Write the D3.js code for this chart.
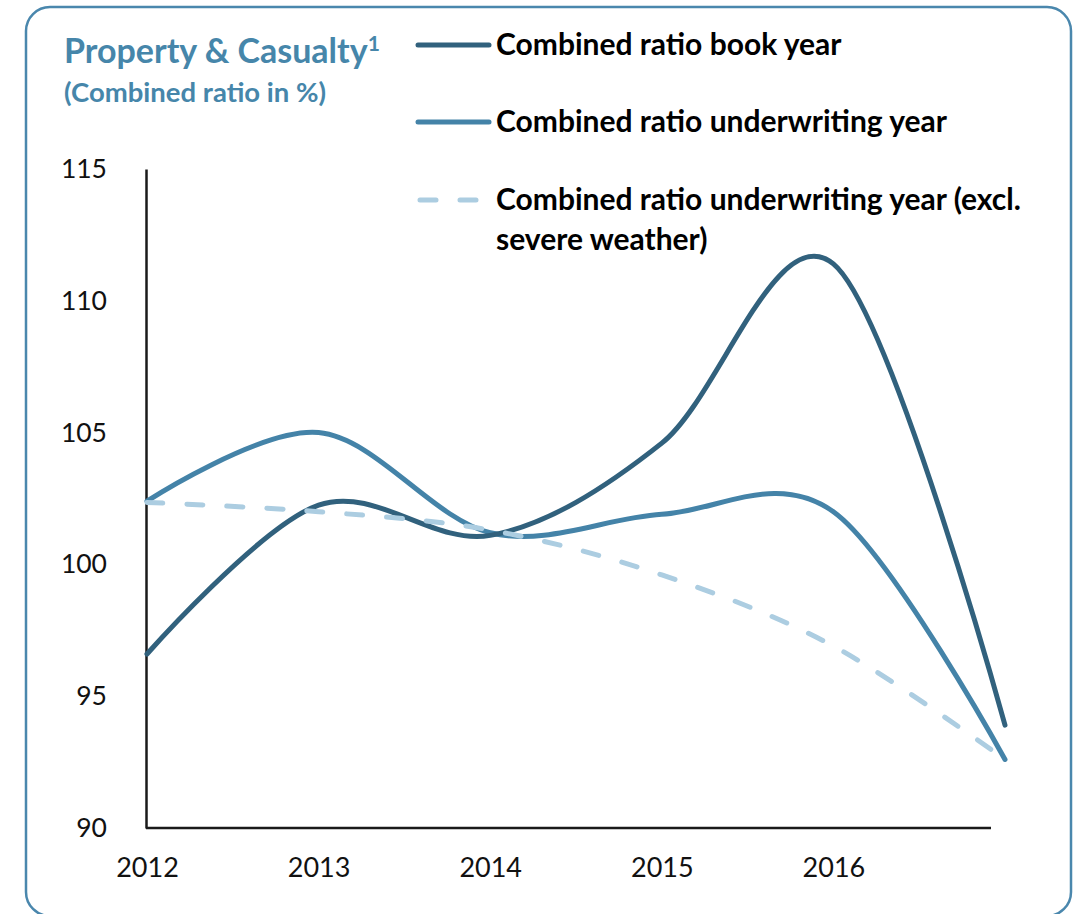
<!DOCTYPE html>
<html>
<head>
<meta charset="utf-8">
<script src="https://cdn.jsdelivr.net/npm/d3@7"></script>
<style>
  html, body { margin: 0; padding: 0; background: #ffffff; }
  svg { display: block; font-family: Lato, "Open Sans", sans-serif; }
</style>
</head>
<body>
<svg id="chart" width="1080" height="914"></svg>
<script>
// Property & Casualty combined ratios (%)
const years = [2012, 2013, 2014, 2015, 2016, 2017];
const tickYears = [2012, 2013, 2014, 2015, 2016];
const bookYear = [96.6, 102.25, 101.1, 104.6, 111.4, 93.9];
const underwritingYear = [102.4, 105.0, 101.2, 101.9, 102.0, 92.6];
const underwritingExWeather = [102.35, 102.0, 101.3, 99.6, 96.9, 92.6];
const yTicks = [90, 95, 100, 105, 110, 115];

const seriesNames = [
  "Combined ratio book year",
  "Combined ratio underwriting year",
  "Combined ratio underwriting year (excl.",
  "severe weather)"
];

const colors = {
  book: "#31617d",
  uw: "#4483a8",
  uwEx: "#accde1",
  title: "#4686aa",
  frame: "#4a87ad",
  axis: "#1a1a1a"
};

const svg = d3.select("#chart");

// rounded panel frame
svg.append("rect")
  .attr("x", 26).attr("y", 7)
  .attr("width", 1045).attr("height", 909)
  .attr("rx", 24).attr("ry", 24)
  .attr("fill", "none")
  .attr("stroke", colors.frame)
  .attr("stroke-width", 2.5);

// title block
const title = svg.append("text")
  .attr("x", 64).attr("y", 63)
  .attr("fill", colors.title)
  .attr("font-weight", 700)
  .attr("font-size", 34);
title.append("tspan").text("Property & Casualty");
title.append("tspan")
  .attr("font-size", 21)
  .attr("dy", -12)
  .text("1");

svg.append("text")
  .attr("x", 64).attr("y", 102)
  .attr("fill", colors.title)
  .attr("font-weight", 700)
  .attr("font-size", 27.5)
  .text("(Combined ratio in %)");

// scales
const x = d3.scaleLinear().domain([2012, 2017]).range([147, 1005]);
const y = d3.scaleLinear().domain([90, 115]).range([828, 169]);

// y axis
const yAxis = svg.append("g")
  .attr("transform", "translate(146,0)")
  .call(d3.axisLeft(y).tickValues(yTicks).tickSize(0).tickSizeOuter(0).tickPadding(39));
yAxis.select(".domain").attr("stroke", colors.axis).attr("stroke-width", 2.5);
yAxis.selectAll("text")
  .attr("font-family", "Lato, sans-serif")
  .attr("font-size", 26.5)
  .attr("fill", "#111");

// x axis
const xAxis = svg.append("g")
  .attr("transform", "translate(0,828)")
  .call(d3.axisBottom(x).tickValues(tickYears).tickFormat(d3.format("d")).tickSize(0).tickPadding(30));
xAxis.select(".domain").remove();
xAxis.selectAll("text")
  .attr("font-family", "Lato, sans-serif")
  .attr("font-size", 27)
  .attr("fill", "#111");
xAxis.append("line")
  .attr("x1", x(2012) - 1).attr("x2", x(2017) - 14)
  .attr("y1", 0).attr("y2", 0)
  .attr("stroke", colors.axis)
  .attr("stroke-width", 2.5);

// smoothed series lines
const line = d3.line()
  .x((d, i) => x(years[i]))
  .y(d => y(d))
  .curve(d3.curveCardinal.tension(0));

const series = [
  { values: underwritingYear, color: colors.uw, dash: null },
  { values: bookYear, color: colors.book, dash: null },
  { values: underwritingExWeather, color: colors.uwEx, dash: "16 24" }
];

svg.append("g").selectAll("path")
  .data(series)
  .join("path")
  .attr("d", d => line(d.values))
  .attr("fill", "none")
  .attr("stroke", d => d.color)
  .attr("stroke-width", 5)
  .attr("stroke-linecap", "round")
  .attr("stroke-linejoin", "round")
  .attr("stroke-dasharray", d => d.dash);

// legend
const legend = svg.append("g");
const legendRows = [
  { color: colors.book, dash: null, ly: 45, lines: [seriesNames[0]], ty: 55 },
  { color: colors.uw, dash: null, ly: 122, lines: [seriesNames[1]], ty: 132 },
  { color: colors.uwEx, dash: "16 24", ly: 200, lines: [seriesNames[2], seriesNames[3]], ty: 210 }
];
legendRows.forEach(r => {
  legend.append("line")
    .attr("x1", r.dash ? 420 : 418).attr("x2", 489)
    .attr("y1", r.ly).attr("y2", r.ly)
    .attr("stroke", r.color)
    .attr("stroke-width", 5)
    .attr("stroke-linecap", "round")
    .attr("stroke-dasharray", r.dash);
  r.lines.forEach((t, i) => {
    legend.append("text")
      .attr("x", 496).attr("y", r.ty + i * 40)
      .attr("font-weight", 700)
      .attr("font-size", 30)
      .attr("fill", "#000")
      .text(t);
  });
});
</script>
</body>
</html>
